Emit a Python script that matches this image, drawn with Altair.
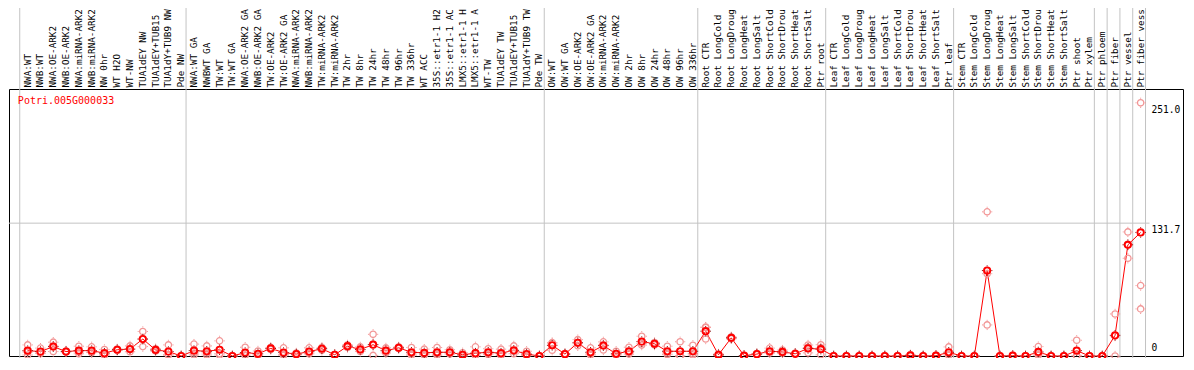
import altair as alt
import numpy as np
import pandas as pd

gene = "Potri.005G000033"

categories = [
    "NWA:WT", "NWB:WT", "NWA:OE-ARK2", "NWB:OE-ARK2", "NWA:miRNA-ARK2", "NWB:miRNA-ARK2",
    "NW 0hr", "WT H2O", "WT-NW", "TUA1dEY NW", "TUA1dEY+TUB15", "TUA1dY+TUB9 NW", "Pde NW",
    "NWA:WT GA", "NWBWT GA", "TW:WT", "TW:WT GA", "NWA:OE-ARK2 GA", "NWB:OE-ARK2 GA",
    "TW:OE-ARK2", "TW:OE-ARK2 GA", "NWA:miRNA-ARK2", "NWB:miRNA-ARK2", "TW:miRNA-ARK2",
    "TW:miRNA-ARK2", "TW 2hr", "TW 8hr", "TW 24hr", "TW 48hr", "TW 96hr", "TW 336hr",
    "WT ACC", "35S::etr1-1 H2O", "35S::etr1-1 ACC", "LMX5::etr1-1 H2O", "LMX5::etr1-1 ACC",
    "WT-TW", "TUA1dEY TW", "TUA1dEY+TUB15 TW", "TUA1dY+TUB9 TW", "Pde TW",
    "OW:WT", "OW:WT GA", "OW:OE-ARK2", "OW:OE-ARK2 GA", "OW:miRNA-ARK2", "OW:miRNA-ARK2",
    "OW 2hr", "OW 8hr", "OW 24hr", "OW 48hr", "OW 96hr", "OW 336hr",
    "Root CTR", "Root LongCold", "Root LongDrought", "Root LongHeat", "Root LongSalt",
    "Root ShortCold", "Root ShortDrought", "Root ShortHeat", "Root ShortSalt", "Ptr root",
    "Leaf CTR", "Leaf LongCold", "Leaf LongDrought", "Leaf LongHeat", "Leaf LongSalt",
    "Leaf ShortCold", "Leaf ShortDrought", "Leaf ShortHeat", "Leaf ShortSalt", "Ptr leaf",
    "Stem CTR", "Stem LongCold", "Stem LongDrought", "Stem LongHeat", "Stem LongSalt",
    "Stem ShortCold", "Stem ShortDrought", "Stem ShortHeat", "Stem ShortSalt", "Ptr shoot",
    "Ptr xylem", "Ptr phloem", "Ptr fiber", "Ptr vessel", "Ptr fiber vessel",
]

means = [
    5.3, 4.4, 9.3, 4.4, 5.3, 5.3, 2.8, 6.2, 6.9, 16.8, 6.0, 4.4, 0.0,
    5.3, 4.7, 6.2, 0.0, 3.4, 2.2, 7.5, 3.4, 1.9, 4.4, 7.2, 1.2, 9.7, 6.5, 11.2,
    5.3, 8.1, 3.7, 3.1, 3.7, 3.7, 1.2, 2.8, 3.7, 2.8, 5.6, 1.9, 0.0,
    10.6, 1.9, 13.1, 3.7, 10.3, 2.2, 4.7, 14.3, 12.1, 4.7, 4.7, 4.7,
    24.6, 1.2, 18.0, 0.3, 1.9, 4.7, 4.0, 2.2, 7.5, 6.8,
    0.0, 0.0, 0.0, 0.0, 0.0, 0.0, 0.6, 0.0, 0.3, 3.7,
    0.0, 0.0, 84.7, 0.0, 0.3, 0.0, 4.0, 0.0, 0.0, 5.3,
    0.0, 0.0, 20.5, 110.2, 122.5,
]

replicates = [
    [11, 4, 1], [7.8, 3, 2.4], [13.7, 9.8, 4.4], [5, 4, 4.2], [9.7, 4, 2.2], [9.1, 3.4, 3.4],
    [6.5, 1, 1], [7, 6, 5.6], [10, 6.5, 4.2], [24.3, 16.8, 9.3], [7.2, 6, 4.8], [11, 1.5, 0.7],
    [0, 0, 0],
    [11.8, 3, 1], [10, 3, 1], [15, 2.5, 1], [0, 0, 0], [8.7, 1, 0.5], [5, 1, 0.6], [8.5, 7.5, 6.5],
    [8.1, 1.5, 0.6], [3, 1.7, 1], [8.1, 3, 2.1], [8.5, 7.5, 5.6], [1.5, 1.2, 0.9], [11, 9.7, 8.4],
    [9, 6, 4.5], [21.5, 11.5, 0.6], [8, 5, 3], [9, 8, 7.3], [8.4, 2, 0.7], [6.8, 1.5, 1],
    [8.4, 2, 0.7], [6.2, 3, 1.9], [3.2, 0.4, 0], [9.1, 0.8, 0.5], [7.2, 2.5, 1.4], [6.8, 1, 0.6],
    [10, 4.5, 2.3], [4.7, 0.6, 0.4], [0, 0, 0],
    [13.1, 13, 5.7], [2.5, 1.9, 1.3], [16.2, 13, 10.1], [8.1, 2, 1], [14, 11, 5.9], [4.7, 1.2, 0.7],
    [8.7, 3.5, 1.9], [19.6, 12.5, 10.8], [13.4, 12, 10.9], [9.7, 3, 1.4], [14.1, 0, 0],
    [10.6, 2.5, 1],
    [28.3, 28.7, 16.8], [2, 1, 0.6], [19, 18, 17], [0.5, 0.3, 0.1], [2.5, 1.9, 1.3],
    [7.8, 3.5, 2.8], [5.9, 3.5, 2.6], [2.8, 2.2, 1.6], [10.9, 8.5, 3.1], [11.2, 8, 1.2],
    [0, 0, 0], [0, 0, 0], [0, 0, 0], [0, 0, 0], [0, 0, 0], [0, 0, 0], [1.2, 0.4, 0.2],
    [0, 0, 0], [0.6, 0.2, 0.1], [9, 1.5, 0.6],
    [0, 0, 0], [0, 0, 0], [142.9, 81.6, 30.8], [0, 0, 0], [0.6, 0.2, 0.1], [0, 0, 0],
    [9.3, 2, 0.7], [0, 0, 0], [0, 0, 0], [15.6, 0.3, 0],
    [0, 0, 0], [0, 0, 0], [41.7, 19.8, 0], [123, 110.7, 96.9], [251.0, 69.8, 46.7],
]

group_sizes = [13, 28, 12, 10, 10, 11, 1, 1, 1, 1]

value_labels = [251.0, 131.7, 0.0]
value_label_text = ["251.0", "131.7", "0"]
grid_values = [131.7]

# ---------------- layout ----------------
W, H = 1174, 267
PT, PB, PL, PR = 81, 2, 1, 1
SX = (W + PL + PR) / 1194.0
SY = H / 284.0
MONO = "DejaVu Sans Mono"
RED = "#ff0000"
PINK = "#f29696"
GRAY = "#c3c3c3"

idx = list(range(len(categories)))
df_mean = pd.DataFrame({"idx": idx, "label": categories, "value": means})
df_rep = pd.DataFrame(
    [{"idx": i, "value": v} for i, reps in enumerate(replicates) for v in reps]
)
ends = np.cumsum(group_sizes) - 1
df_sep = pd.DataFrame({"idx": [-1 + 0.38] + [float(e) + 0.38 for e in ends]})
df_vals = pd.DataFrame({"value": value_labels, "txt": value_label_text})
df_grid = pd.DataFrame({"value": grid_values})
df_title = pd.DataFrame({"t": [gene]})

x_scale = alt.Scale(domain=[-1.46, 90.31], nice=False, zero=False)
y_scale = alt.Scale(domain=[0, 264.7], nice=False, zero=False)
X = alt.X("idx:Q", scale=x_scale, axis=None)
Y = alt.Y("value:Q", scale=y_scale, axis=None)

TICKS = "M-1,0L-0.8,0M0.8,0L1,0M0,-1L0,-0.8M0,0.8L0,1"

seps = alt.Chart(df_sep).mark_rule(color=GRAY, strokeWidth=1).encode(
    x=X, y=alt.value(-PT), y2=alt.value(H + PB)
)
grid = alt.Chart(df_grid).mark_rule(color=GRAY, strokeWidth=1).encode(
    y=Y, x=alt.value(0), x2=alt.value(1158 * SX)
)
line = alt.Chart(df_mean).mark_line(color=RED, strokeWidth=1).encode(x=X, y=Y)
rep_ticks = alt.Chart(df_rep).mark_point(
    shape=TICKS, filled=False, color=PINK, size=105, strokeWidth=1, opacity=1
).encode(x=X, y=Y)
reps = alt.Chart(df_rep).mark_point(
    shape="circle", filled=False, color=PINK, size=40, strokeWidth=1.3, opacity=1
).encode(x=X, y=Y)
mean_ticks = alt.Chart(df_mean).mark_point(
    shape=TICKS, filled=False, color="#8a1010", size=110, strokeWidth=1, opacity=1
).encode(x=X, y=Y)
mean_pts = alt.Chart(df_mean).mark_point(
    shape="circle", filled=False, color=RED, size=40, strokeWidth=1.9, opacity=1
).encode(x=X, y=Y)
header = alt.Chart(df_mean).mark_text(
    angle=270, align="left", baseline="middle", font=MONO, fontSize=9.3,
    color="black", limit=PT - 2, ellipsis="\u200b"
).encode(x=X, y=alt.value(-1.5), text="label:N")
title = alt.Chart(df_title).mark_text(
    align="left", baseline="alphabetic", font=MONO, fontSize=10, color=RED
).encode(text="t:N", x=alt.value(9 * SX), y=alt.value(15 * SY + 0.5))
val_top = alt.Chart(df_vals).transform_filter(alt.datum.value > 0).mark_text(
    align="left", baseline="top", font=MONO, fontSize=9.6, color="black", dy=2
).encode(y=Y, x=alt.value(1160 * SX), text="txt:N")
val_zero = alt.Chart(df_vals).transform_filter(alt.datum.value <= 0).mark_text(
    align="left", baseline="bottom", font=MONO, fontSize=9.6, color="black", dy=-3
).encode(y=Y, x=alt.value(1160 * SX), text="txt:N")

chart = alt.layer(
    seps, grid, line, rep_ticks, reps, mean_ticks, mean_pts, header, title, val_top, val_zero
).properties(
    width=W, height=H,
    padding={"top": PT, "bottom": PB, "left": PL, "right": PR},
    autosize="none",
).configure_view(stroke="black", strokeWidth=1)

chart.save("out.html", embed_options={"renderer": "svg", "actions": False})
